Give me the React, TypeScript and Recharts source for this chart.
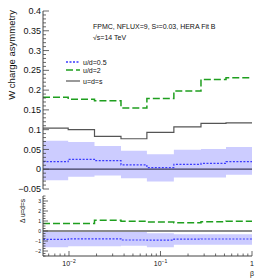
import React from 'react';
import { ComposedChart, Line, Area, XAxis, YAxis, ReferenceLine } from 'recharts';

// bin edges in beta (log spaced), last edge closes the final bin
const binEdges = [0.0052, 0.0098, 0.019, 0.037, 0.071, 0.14, 0.277, 0.52, 1];

// top panel: W charge asymmetry
const asymUd05 = [0.019, 0.025, 0.0215, 0.011, 0.004, 0.0125, 0.015, 0.019];
const asymUd05Lo = [-0.028, -0.019, -0.016, -0.023, -0.031, -0.021, -0.021, -0.014];
const asymUd05Hi = [0.072, 0.069, 0.059, 0.047, 0.038, 0.049, 0.051, 0.056];
const asymUd2 = [0.182, 0.177, 0.173, 0.155, 0.179, 0.198, 0.227, 0.231];
const asymUds = [0.104, 0.1, 0.083, 0.077, 0.093, 0.107, 0.116, 0.117];

// bottom panel: difference w.r.t. u=d=s
const diffUd05 = [-0.83, -0.78, -0.78, -0.9, -0.92, -0.82, -0.8, -0.8];
const diffUd05Lo = [-1.63, -1.53, -1.53, -1.47, -1.63, -1.37, -1.37, -1.37];
const diffUd05Hi = [0, 0, 0, 0, -0.22, -0.32, -0.32, -0.32];
const diffUd2 = [0.75, 0.75, 1.08, 0.98, 0.9, 0.83, 0.93, 0.97];

const topYMajor = [-0.05, 0, 0.05, 0.1, 0.15, 0.2, 0.25, 0.3, 0.35, 0.4];
const botYMajor = [-2, -1, 0, 1, 2, 3];
const xMajor = [0.01, 0.1, 1];
const xMajorLabels = ['10', '10', '1'];
const xMajorExp = ['−2', '−1', ''];

const FONT = '"Liberation Sans", Arial, Helvetica, sans-serif';
const FRAME = '#444';
const GREEN = '#1f9f1f';
const BLUE = '#3a3aff';
const BAND = '#ccccff';
const GRAY = '#555';

const last = (a: number[], i: number) => a[Math.min(i, a.length - 1)];

const topRows = binEdges.map((b, i) => ({
  beta: b,
  ud05: last(asymUd05, i),
  band: [last(asymUd05Lo, i), last(asymUd05Hi, i)],
  ud2: last(asymUd2, i),
  uds: last(asymUds, i),
}));

const botRows = binEdges.map((b, i) => ({
  beta: b,
  ud05: last(diffUd05, i),
  band: [last(diffUd05Lo, i), last(diffUd05Hi, i)],
  ud2: last(diffUd2, i),
}));

const fillMinor = (lo: number, hi: number, step: number) => {
  const out: number[] = [];
  for (let v = lo; v <= hi + 1e-9; v += step) out.push(Math.round(v * 1000) / 1000);
  return out;
};
const topYTicks = fillMinor(-0.05, 0.4, 0.01);
const botYTicks = fillMinor(-2.5, 3.5, 0.25);
const xTicks: number[] = [];
[0.001, 0.01, 0.1].forEach((d) => {
  for (let k = 1; k <= 9; k++) {
    const v = Math.round(d * k * 10000) / 10000;
    if (v >= binEdges[0] && v <= 1) xTicks.push(v);
  }
});
xTicks.push(1);

const isIn = (v: number, list: number[]) => list.some((m) => Math.abs(m - v) < 1e-6);
const fmtTop = (v: number) => (v < 0 ? '−' + String(-v) : String(v));

const makeYTick = (side: 'l' | 'r', majors: number[], big: number, small: number, fs: number, fmt?: (v: number) => string) =>
  (p: any) => {
    const v = p.payload.value;
    const major = isIn(v, majors);
    const len = major ? big : small;
    if (side === 'l') {
      const ax = p.x + 2;
      return (
        <g>
          <line x1={ax} x2={ax + len} y1={p.y} y2={p.y} stroke={FRAME} strokeWidth={0.8} />
          {major && fmt && (
            <text x={p.x} y={p.y} dy={fs * 0.35} textAnchor="end" fontSize={fs} fontFamily={FONT} fill="#111">
              {fmt(v)}
            </text>
          )}
        </g>
      );
    }
    return <line x1={p.x} x2={p.x - len} y1={p.y} y2={p.y} stroke={FRAME} strokeWidth={0.8} />;
  };

const makeXTick = (side: 'b' | 't', big: number, small: number, labels: boolean) => (p: any) => {
  const v = p.payload.value;
  const idx = xMajor.findIndex((m) => Math.abs(m - v) < 1e-6);
  const major = idx >= 0;
  const len = major ? big : small;
  const dir = side === 'b' ? -1 : 1;
  return (
    <g>
      <line x1={p.x} x2={p.x} y1={p.y} y2={p.y + dir * len} stroke={FRAME} strokeWidth={0.8} />
      {labels && major && (
        <text x={p.x} y={p.y + 10} textAnchor="middle" fontSize={7} fontFamily={FONT} fill="#111">
          {xMajorLabels[idx]}
          {xMajorExp[idx] !== '' && (
            <tspan dy={-3} fontSize={5}>
              {xMajorExp[idx]}
            </tspan>
          )}
        </text>
      )}
    </g>
  );
};

const xDomain: [number, number] = [binEdges[0], 1];

const TopPanel = () => (
  <ComposedChart width={266} height={200} data={topRows} margin={{ top: 11, right: 14, bottom: 11, left: 0 }}>
    <XAxis xAxisId="b" dataKey="beta" type="number" scale="log" domain={xDomain} ticks={xTicks} interval={0}
      height={0} tickSize={0} tickMargin={0} tickLine={false} axisLine={{ stroke: FRAME }} tick={makeXTick('b', 6, 3, false)} />
    <XAxis xAxisId="t" orientation="top" dataKey="beta" type="number" scale="log" domain={xDomain} ticks={xTicks} interval={0}
      height={0} tickSize={0} tickMargin={0} tickLine={false} axisLine={{ stroke: FRAME }} tick={makeXTick('t', 6, 3, false)} />
    <YAxis yAxisId="l" type="number" domain={[-0.05, 0.4]} ticks={topYTicks} interval={0} width={43}
      tickSize={0} tickMargin={2} tickLine={false} axisLine={{ stroke: FRAME }} tick={makeYTick('l', topYMajor, 6, 3, 9, fmtTop)} />
    <YAxis yAxisId="r" orientation="right" type="number" domain={[-0.05, 0.4]} ticks={topYTicks} interval={0} width={0}
      tickSize={0} tickMargin={0} tickLine={false} axisLine={{ stroke: FRAME }} tick={makeYTick('r', topYMajor, 6, 3, 9)} />
    <Area xAxisId="b" yAxisId="l" dataKey="band" type="stepAfter" fill={BAND} fillOpacity={1} stroke="none" isAnimationActive={false} />
    <ReferenceLine xAxisId="b" yAxisId="l" y={0} stroke="#3c3c5c" strokeWidth={1.2} />
    <Line xAxisId="b" yAxisId="l" dataKey="ud05" type="stepAfter" stroke={BLUE} strokeWidth={1.2} strokeDasharray="2 1.5" dot={false} isAnimationActive={false} />
    <Line xAxisId="b" yAxisId="l" dataKey="uds" type="stepAfter" stroke={GRAY} strokeWidth={1.2} dot={false} isAnimationActive={false} />
    <Line xAxisId="b" yAxisId="l" dataKey="ud2" type="stepAfter" stroke={GREEN} strokeWidth={1.5} strokeDasharray="7 3" dot={false} isAnimationActive={false} />
  </ComposedChart>
);

const BottomPanel = () => (
  <ComposedChart width={266} height={93} data={botRows} margin={{ top: 11, right: 14, bottom: 2, left: 0 }}>
    <XAxis xAxisId="b" dataKey="beta" type="number" scale="log" domain={xDomain} ticks={xTicks} interval={0}
      height={20} tickSize={0} tickMargin={0} tickLine={false} axisLine={{ stroke: FRAME }} tick={makeXTick('b', 5, 2.5, true)} />
    <XAxis xAxisId="t" orientation="top" dataKey="beta" type="number" scale="log" domain={xDomain} ticks={xTicks} interval={0}
      height={0} tickSize={0} tickMargin={0} tickLine={false} axisLine={{ stroke: FRAME }} tick={makeXTick('t', 5, 2.5, false)} />
    <YAxis yAxisId="l" type="number" domain={[-2.5, 3.5]} ticks={botYTicks} interval={0} width={43}
      tickSize={0} tickMargin={2} tickLine={false} axisLine={{ stroke: FRAME }} tick={makeYTick('l', botYMajor, 5, 2.5, 5, fmtTop)} />
    <YAxis yAxisId="r" orientation="right" type="number" domain={[-2.5, 3.5]} ticks={botYTicks} interval={0} width={0}
      tickSize={0} tickMargin={0} tickLine={false} axisLine={{ stroke: FRAME }} tick={makeYTick('r', botYMajor, 5, 2.5, 5)} />
    <Area xAxisId="b" yAxisId="l" dataKey="band" type="stepAfter" fill={BAND} fillOpacity={1} stroke="none" isAnimationActive={false} />
    <ReferenceLine xAxisId="b" yAxisId="l" y={0} stroke="#8a8a8a" strokeWidth={2} />
    <Line xAxisId="b" yAxisId="l" dataKey="ud05" type="stepAfter" stroke={BLUE} strokeWidth={1.2} strokeDasharray="2 1.5" dot={false} isAnimationActive={false} />
    <Line xAxisId="b" yAxisId="l" dataKey="ud2" type="stepAfter" stroke={GREEN} strokeWidth={1.5} strokeDasharray="7 3" dot={false} isAnimationActive={false} />
  </ComposedChart>
);

const legendItems = [
  { label: 'u/d=0.5', color: BLUE, dash: '2 1.5', y: 62 },
  { label: 'u/d=2', color: GREEN, dash: '7 3', y: 70 },
  { label: 'u=d=s', color: GRAY, dash: undefined, y: 81 },
];

const Labels = () => (
  <svg width={266} height={278} style={{ position: 'absolute', left: 0, top: 0, pointerEvents: 'none' }} fontFamily={FONT}>
    <text transform="translate(15,10) rotate(-90)" textAnchor="end" fontSize={9.5} fill="#111">W charge asymmetry</text>
    <text transform="translate(25,199) rotate(-90)" textAnchor="end" fontSize={6.5} fill="#111">Δ u=d=s</text>
    <text x={93} y={29} fontSize={7} fill="#111">FPMC, NFLUX=9, S²=0.03, HERA Fit B</text>
    <text x={93} y={40} fontSize={7} fill="#111">√s=14 TeV</text>
    {legendItems.map((it) => (
      <g key={it.label}>
        <line x1={66} x2={80} y1={it.y} y2={it.y} stroke={it.color} strokeWidth={it.dash ? 1.3 : 1.2} strokeDasharray={it.dash} />
        <text x={83} y={it.y + 2.5} fontSize={7} fill="#111">{it.label}</text>
      </g>
    ))}
    <text x={252} y={276} textAnchor="middle" fontSize={7} fill="#111">β</text>
  </svg>
);

export default function App() {
  return (
    <div style={{ position: 'absolute', left: 0, top: 0, width: 266, height: 278, background: '#fff' }}>
      <div style={{ position: 'absolute', left: 0, top: 0 }}>
        <TopPanel />
      </div>
      <div style={{ position: 'absolute', left: 0, top: 185 }}>
        <BottomPanel />
      </div>
      <Labels />
    </div>
  );
}
